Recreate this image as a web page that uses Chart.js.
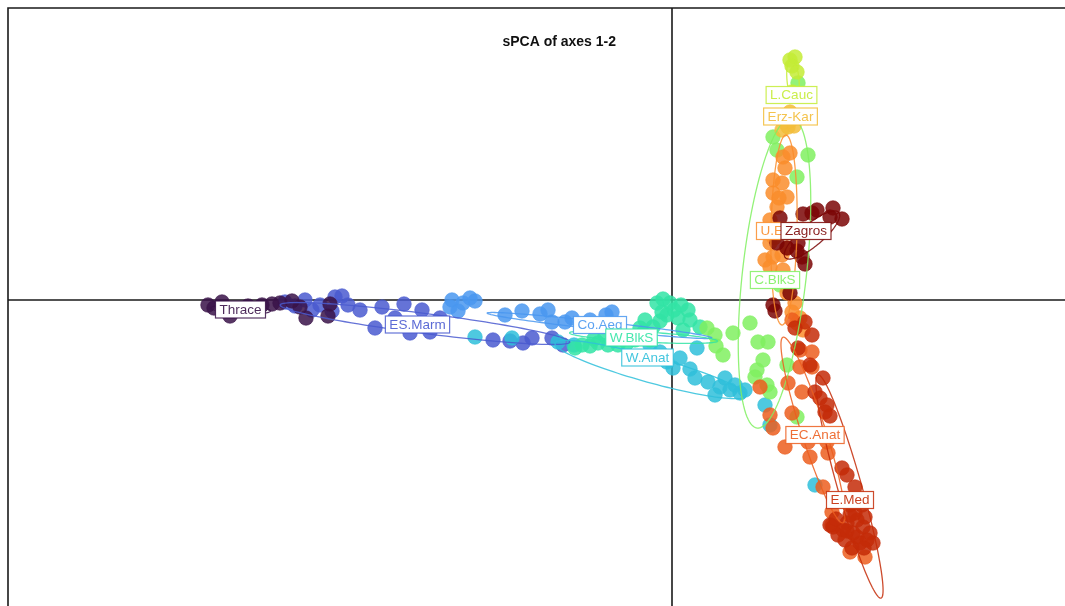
<!DOCTYPE html>
<html>
<head>
<meta charset="utf-8">
<script src="https://cdn.jsdelivr.net/npm/chart.js@4/dist/chart.umd.min.js"></script>
<style>
  html, body { margin: 0; padding: 0; background: #fff; overflow: hidden; }
  canvas { display: block; }
</style>
</head>
<body>
<canvas id="spca" width="1065" height="606"></canvas>
<script>
// sPCA scores (axis 1, axis 2) of individuals, grouped by region
const thrace = [[-9.28,-0.10],[-9.16,-0.16],[-9.00,-0.04],[-8.84,-0.32],[-8.48,-0.12],[-8.20,-0.10],
  [-8.00,-0.08],[-7.84,-0.06],[-7.60,-0.02],[-7.44,-0.14],[-7.32,-0.36],[-6.88,-0.32],[-6.84,-0.08]];
const esMarm = [[-7.74,-0.04],[-7.54,-0.12],[-7.34,0.00],[-7.20,-0.20],[-7.04,-0.10],[-6.80,-0.22],
  [-6.74,0.06],[-6.60,0.08],[-6.48,-0.10],[-6.24,-0.20],[-5.94,-0.56],[-5.80,-0.14],[-5.54,-0.36],
  [-5.36,-0.08],[-5.24,-0.66],[-5.00,-0.20],[-4.84,-0.64],[-4.64,-0.36],[-3.58,-0.80],[-3.24,-0.82],
  [-2.98,-0.86],[-2.80,-0.76],[-2.40,-0.76],[-2.18,-0.90]];
const coAeg = [[-4.44,-0.14],[-4.40,0.00],[-4.28,-0.22],[-4.18,-0.06],[-4.04,0.04],[-3.94,-0.02],
  [-3.34,-0.30],[-3.00,-0.22],[-2.64,-0.28],[-2.48,-0.20],[-2.40,-0.44],[-2.14,-0.44],[-2.00,-0.36],
  [-1.64,-0.40],[-1.32,-0.30],[-1.20,-0.24]];
const wAnat = [[-3.94,-0.74],[-3.20,-0.76],[-2.28,-0.84],[-1.96,-0.90],[-0.44,-0.90],[-0.24,-1.04],
  [-0.10,-1.24],[0.02,-1.36],[0.16,-1.16],[0.36,-1.38],[0.50,-0.96],[0.46,-1.56],[0.72,-1.64],
  [0.96,-1.74],[1.06,-1.56],[1.16,-1.80],[0.86,-1.90],[1.36,-1.86],[1.46,-1.80],[1.26,-1.70],
  [1.86,-2.10],[1.96,-2.50],[2.86,-3.70]];
const wBlkS = [[-0.30,-0.06],[-0.18,0.02],[-0.04,-0.06],[0.18,-0.10],[-0.10,-0.30],[-0.24,-0.42],
  [-0.38,-0.54],[-0.58,-0.66],[-0.74,-0.80],[-0.90,-0.86],[-1.08,-0.90],[-1.28,-0.90],[-1.48,-0.86],
  [-1.64,-0.92],[-1.80,-0.90],[-1.94,-0.96],[0.36,-0.40],[0.56,-0.54],[0.22,-0.60],[-0.44,-0.80],
  [-1.34,-0.72],[0.12,-0.36],[-0.54,-0.40],[0.32,-0.20],[-1.16,-0.80],[-0.98,-0.76],[-0.64,-0.56],
  [-0.20,-0.24],[0.04,-0.20],[-1.56,-0.78]];
const cBlkS = [[0.70,-0.56],[0.86,-0.70],[0.88,-0.92],[1.02,-1.10],[1.22,-0.66],[1.56,-0.46],
  [1.72,-0.84],[1.92,-0.84],[1.82,-1.20],[1.70,-1.40],[1.66,-1.54],[1.90,-1.70],[1.96,-1.84],
  [2.50,-2.34],[2.30,-1.30],[2.02,3.26],[2.72,2.90],[2.50,2.46],[2.10,3.00],[2.52,4.34],[2.16,0.30]];
const lCauc = [[2.36,4.80],[2.46,4.86],[2.40,4.68],[2.50,4.56],[2.40,4.16]];
const erzKar = [[2.20,3.40],[2.32,3.46],[2.44,3.48],[2.36,3.76]];
const uEuph = [[2.22,2.86],[2.36,2.94],[2.26,2.64],[2.02,2.40],[2.20,2.34],[2.02,2.14],[2.30,2.06],
  [2.14,2.04],[2.10,1.86],[1.96,1.60],[2.16,1.40],[1.90,1.36],[2.04,1.24],[1.96,1.14],[2.30,1.04],
  [2.20,0.90],[1.86,0.80],[2.02,0.86],[1.96,0.66],[2.22,0.60],[2.12,0.40],[2.30,0.14],[2.46,-0.06],
  [2.40,-0.24],[2.56,-0.36],[2.50,-0.46],[2.62,-0.60]];
const zagros = [[2.16,1.64],[2.62,1.72],[2.80,1.74],[2.90,1.80],[3.22,1.84],[3.16,1.66],[3.40,1.62],
  [2.30,1.04],[2.50,0.98],[2.60,0.86],[2.66,0.72],[2.52,1.14],[2.10,1.14],[2.36,0.14],
  [2.02,-0.10],[2.06,-0.22]];
const ecAnat = [[2.40,-0.40],[2.56,-1.00],[2.80,-1.04],[2.56,-1.34],[2.80,-1.34],[2.32,-1.66],
  [2.60,-1.84],[1.76,-1.74],[1.96,-2.30],[2.02,-2.56],[2.40,-2.26],[2.26,-2.94],[2.76,-3.14],
  [3.12,-3.06],[2.72,-2.84],[3.10,-2.84],[3.02,-3.74],[3.20,-4.24],[3.56,-5.04],[3.86,-5.14],
  [3.20,-4.50]];
const eMed = [[2.46,-0.56],[2.66,-0.44],[2.80,-0.70],[2.52,-0.96],[2.76,-1.30],[3.02,-1.56],
  [2.86,-1.84],[2.96,-1.96],[3.10,-2.10],[3.06,-2.24],[3.16,-2.32],[3.40,-3.36],[3.50,-3.50],
  [3.66,-3.74],[3.22,-4.54],[3.50,-4.46],[3.70,-4.40],[3.82,-4.54],[3.96,-4.66],[3.70,-4.74],
  [3.90,-4.80],[4.02,-4.86],[3.76,-4.86],[3.42,-4.60],[3.32,-4.70],[3.16,-4.50],[3.66,-4.26],
  [3.86,-4.34],[3.56,-4.10],[3.80,-4.10],[3.60,-4.96],[3.46,-4.80],[3.50,-4.62],[3.62,-4.66],
  [3.84,-4.96],[3.56,-4.30],[3.28,-4.38]];

// group names, colours and point sets (same order)
const groupNames  = ['Thrace','ES.Marm','Co.Aeg','W.BlkS','W.Anat','C.BlkS','L.Cauc','Erz-Kar','U.Euph','Zagros','EC.Anat','E.Med'];
const groupColors = ['#3a1349','#4a5bd0','#4a98f0','#33e4a6','#2fc0da','#80f060','#c4ec36','#f3bd3a','#fa8d2c','#7b0606','#ec5e1f','#c42c08'];
const groupPoints = [thrace, esMarm, coAeg, wBlkS, wAnat, cBlkS, lCauc, erzKar, uEuph, zagros, ecAnat, eMed];

// label anchors (group centroids)
const labelX = [-8.63,-5.09,-1.44,-0.81,-0.49,2.06,2.39,2.37,2.22,2.68,2.86,3.56];
const labelY = [-0.19,-0.49,-0.50,-0.75,-1.15,0.40,4.10,3.67,1.38,1.38,-2.70,-4.00];

// inertia ellipses: centre, semi-axes and orientation (radians)
const ellCX    = [-8.63,-4.94,-1.45,-0.57,-0.43,2.05,2.42,2.34,2.24,2.80,2.82,3.55];
const ellCY    = [-0.19,-0.47,-0.51,-0.74,-1.39,0.54,4.40,3.50,1.40,1.30,-2.60,-3.73];
const ellA     = [0.60,2.92,2.26,1.48,1.98,3.12,0.44,0.18,1.90,0.70,1.95,2.32];
const ellB     = [0.08,0.20,0.08,0.10,0.26,0.64,0.12,0.06,0.26,0.22,0.24,0.24];
const ellAngle = [-0.05,-0.127,-0.11,-0.055,-0.27,1.459,1.66,0.30,1.55,0.70,1.883,1.846];

// drawing order of the point clouds (first = bottom)
const paintOrder = ['ES.Marm','Thrace','Co.Aeg','W.Anat','W.BlkS','C.BlkS','L.Cauc','Erz-Kar','U.Euph','EC.Anat','E.Med','Zagros'];

function rgba(hex, a) {
  const n = parseInt(hex.slice(1), 16);
  return `rgba(${(n >> 16) & 255},${(n >> 8) & 255},${n & 255},${a})`;
}

const datasets = paintOrder.map(name => {
  const i = groupNames.indexOf(name);
  return {
    label: name,
    data: groupPoints[i].map(p => ({ x: p[0], y: p[1] })),
    backgroundColor: rgba(groupColors[i], 0.85),
    borderColor: rgba(groupColors[i], 0.95),
    borderWidth: 0.6,
    pointRadius: 7.3,
    pointHoverRadius: 7.3
  };
}).reverse(); // Chart.js paints dataset 0 last (on top)

const FONT = '"Liberation Sans", Arial, Helvetica, sans-serif';

const sclassPlugin = {
  id: 'sclass',
  beforeDatasetsDraw(chart) {
    const { ctx, chartArea: a, scales: { x, y } } = chart;
    ctx.save();
    ctx.strokeStyle = '#1a1a1a';
    ctx.lineWidth = 1.6;
    // box (top and left edges fall inside the view)
    ctx.beginPath();
    ctx.moveTo(a.left, a.bottom + 2);
    ctx.lineTo(a.left, a.top);
    ctx.lineTo(a.right + 2, a.top);
    ctx.stroke();
    // zero lines
    const x0 = x.getPixelForValue(0), y0 = y.getPixelForValue(0);
    ctx.beginPath();
    ctx.moveTo(a.left, y0); ctx.lineTo(a.right, y0);
    ctx.moveTo(x0, a.top); ctx.lineTo(x0, a.bottom);
    ctx.stroke();
    // title
    ctx.fillStyle = '#111';
    ctx.font = 'bold 14px ' + FONT;
    ctx.textAlign = 'center';
    ctx.textBaseline = 'middle';
    ctx.fillText('sPCA of axes 1-2', a.left + a.width * 0.5215, a.top + 34);
    ctx.restore();
  },
  afterDatasetsDraw(chart) {
    const { ctx, scales: { x, y } } = chart;
    ctx.save();
    // ellipses
    groupNames.forEach((name, i) => {
      const c = Math.cos(ellAngle[i]), s = Math.sin(ellAngle[i]);
      ctx.beginPath();
      for (let k = 0; k <= 120; k++) {
        const t = (k / 120) * Math.PI * 2;
        const u = ellA[i] * Math.cos(t), v = ellB[i] * Math.sin(t);
        const px = x.getPixelForValue(ellCX[i] + u * c - v * s);
        const py = y.getPixelForValue(ellCY[i] + u * s + v * c);
        if (k === 0) ctx.moveTo(px, py); else ctx.lineTo(px, py);
      }
      ctx.closePath();
      ctx.strokeStyle = rgba(groupColors[i], 0.85);
      ctx.lineWidth = 1.3;
      ctx.stroke();
    });
    // group labels
    ctx.font = '13.5px ' + FONT;
    ctx.textAlign = 'center';
    ctx.textBaseline = 'middle';
    groupNames.forEach((name, i) => {
      const px = x.getPixelForValue(labelX[i]);
      const py = y.getPixelForValue(labelY[i]);
      const w = ctx.measureText(name).width + 8;
      const h = 17;
      ctx.fillStyle = '#fff';
      ctx.fillRect(px - w / 2, py - h / 2, w, h);
      ctx.strokeStyle = rgba(groupColors[i], 0.85);
      ctx.lineWidth = 1.2;
      ctx.strokeRect(px - w / 2, py - h / 2, w, h);
      ctx.fillStyle = rgba(groupColors[i], 0.9);
      ctx.fillText(name, px, py + 0.5);
    });
    ctx.restore();
  }
};

new Chart(document.getElementById('spca'), {
  type: 'scatter',
  data: { datasets },
  options: {
    responsive: false,
    animation: false,
    events: [],
    layout: { autoPadding: false, padding: { left: 8, top: 8, right: 0, bottom: 0 } },
    plugins: { legend: { display: false }, tooltip: { enabled: false }, title: { display: false } },
    scales: {
      x: { type: 'linear', min: -13.28, max: 7.86, display: false },
      y: { type: 'linear', min: -6.12, max: 5.84, display: false }
    }
  },
  plugins: [sclassPlugin]
});
</script>
</body>
</html>
